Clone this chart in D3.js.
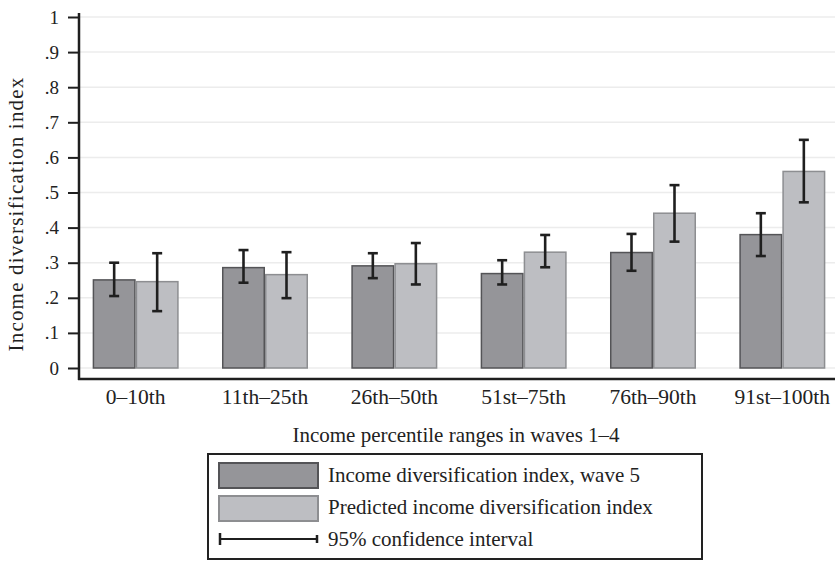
<!DOCTYPE html>
<html>
<head>
<meta charset="utf-8">
<script src="https://cdn.jsdelivr.net/npm/d3@7"></script>
<style>
  body { margin: 0; background: #fff; }
  svg { display: block; font-family: "Liberation Serif", "DejaVu Serif", serif; }
</style>
</head>
<body>
<div id="chart"></div>
<script>
(function () {
  // ---- data ----
  const categories = ['0–10th', '11th–25th', '26th–50th', '51st–75th', '76th–90th', '91st–100th'];
  const wave5     = [0.251, 0.286, 0.291, 0.269, 0.329, 0.380];
  const wave5Lo   = [0.205, 0.243, 0.256, 0.238, 0.277, 0.319];
  const wave5Hi   = [0.300, 0.336, 0.327, 0.307, 0.382, 0.441];
  const predicted   = [0.246, 0.266, 0.297, 0.330, 0.441, 0.560];
  const predictedLo = [0.162, 0.199, 0.238, 0.287, 0.360, 0.472];
  const predictedHi = [0.327, 0.330, 0.356, 0.379, 0.521, 0.650];
  const yTicks = [0, 0.1, 0.2, 0.3, 0.4, 0.5, 0.6, 0.7, 0.8, 0.9, 1];
  const seriesNames = ['Income diversification index, wave 5', 'Predicted income diversification index'];

  const W = 837, H = 562;
  const fill   = ['#959599', '#bdbec2'];
  const stroke = ['#545457', '#8d8e91'];
  const ink = '#222';

  const svg = d3.select('#chart').append('svg')
    .attr('width', W).attr('height', H)
    .attr('viewBox', `0 0 ${W} ${H}`);

  const y = d3.scaleLinear().domain([0, 1]).range([368, 17]);
  const x = d3.scaleBand().domain(categories).range([71, 847])
    .paddingInner(0.335).paddingOuter(0.1675);
  const xs = d3.scaleBand().domain([0, 1]).range([0, x.bandwidth()]);

  const axisX = 79, baseY = 379, rightX = 835;

  // gridlines
  svg.append('g').selectAll('line').data(yTicks).join('line')
    .attr('x1', axisX).attr('x2', rightX)
    .attr('y1', d => y(d)).attr('y2', d => y(d))
    .attr('stroke', '#ececec').attr('stroke-width', 1.5);

  // bars
  const rows = categories.map((c, i) => ({
    cat: c,
    vals: [
      { s: 0, v: wave5[i], lo: wave5Lo[i], hi: wave5Hi[i] },
      { s: 1, v: predicted[i], lo: predictedLo[i], hi: predictedHi[i] }
    ]
  }));

  const grp = svg.append('g').selectAll('g').data(rows).join('g')
    .attr('transform', d => `translate(${x(d.cat)},0)`);

  grp.selectAll('rect').data(d => d.vals).join('rect')
    .attr('x', d => xs(d.s) + 0.75)
    .attr('width', xs.bandwidth() - 1.5)
    .attr('y', d => y(d.v))
    .attr('height', d => y(0) - y(d.v))
    .attr('fill', d => fill[d.s])
    .attr('stroke', d => stroke[d.s])
    .attr('stroke-width', 1.5);

  // error bars
  const eb = grp.selectAll('g.eb').data(d => d.vals).join('g').attr('class', 'eb')
    .attr('transform', d => `translate(${xs(d.s) + xs.bandwidth() / 2},0)`)
    .attr('stroke', '#1f1f1f').attr('stroke-width', 2.6);
  eb.append('line').attr('y1', d => y(d.lo)).attr('y2', d => y(d.hi));
  eb.append('line').attr('x1', -5).attr('x2', 5).attr('y1', d => y(d.hi)).attr('y2', d => y(d.hi));
  eb.append('line').attr('x1', -5).attr('x2', 5).attr('y1', d => y(d.lo)).attr('y2', d => y(d.lo));

  // y axis
  const fmt = d => d === 0 ? '0' : d === 1 ? '1' : d3.format('.1f')(d).replace(/^0/, '');
  const gy = svg.append('g').attr('transform', `translate(${axisX},0)`)
    .call(d3.axisLeft(y).tickValues(yTicks).tickFormat(fmt).tickSize(11).tickPadding(9));
  gy.select('.domain').remove();
  gy.selectAll('.tick line').attr('stroke', '#1f1f1f').attr('stroke-width', 2);
  gy.selectAll('.tick text').attr('font-size', 19).attr('fill', ink)
    .attr('font-family', '"Liberation Serif", serif');
  svg.append('line').attr('x1', axisX).attr('x2', axisX).attr('y1', 13).attr('y2', baseY + 1)
    .attr('stroke', '#1f1f1f').attr('stroke-width', 2.5);

  // x axis
  svg.append('line').attr('x1', axisX - 1).attr('x2', rightX).attr('y1', baseY).attr('y2', baseY)
    .attr('stroke', '#1f1f1f').attr('stroke-width', 2.5);
  svg.append('g').selectAll('text').data(categories).join('text')
    .attr('x', d => x(d) + x.bandwidth() / 2)
    .attr('y', 404)
    .attr('text-anchor', 'middle')
    .attr('font-size', 21.5).attr('fill', ink)
    .text(d => d);

  // axis titles
  svg.append('text')
    .attr('x', 456).attr('y', 442)
    .attr('text-anchor', 'middle').attr('font-size', 21).attr('fill', ink)
    .text('Income percentile ranges in waves 1–4');
  svg.append('text')
    .attr('transform', 'translate(23,214) rotate(-90)')
    .attr('text-anchor', 'middle').attr('font-size', 21).attr('letter-spacing', 1.2).attr('fill', ink)
    .text('Income diversification index');

  // legend
  const lg = svg.append('g');
  lg.append('rect').attr('x', 208).attr('y', 454).attr('width', 494).attr('height', 105)
    .attr('fill', '#fff').attr('stroke', ink).attr('stroke-width', 2);
  const legendRows = [0, 1];
  lg.selectAll('rect.sw').data(legendRows).join('rect').attr('class', 'sw')
    .attr('x', 219).attr('width', 99)
    .attr('y', d => 463 + d * 33).attr('height', 25)
    .attr('fill', d => fill[d]).attr('stroke', d => stroke[d]).attr('stroke-width', 2);
  lg.selectAll('text.lt').data(seriesNames.concat(['95% confidence interval'])).join('text')
    .attr('class', 'lt')
    .attr('x', 328).attr('y', (d, i) => 482 + i * 32)
    .attr('font-size', 21).attr('fill', ink)
    .text(d => d);
  const ci = lg.append('g').attr('stroke', '#1f1f1f').attr('stroke-width', 2);
  ci.append('line').attr('x1', 219).attr('x2', 318).attr('y1', 539).attr('y2', 539);
  ci.append('line').attr('x1', 220).attr('x2', 220).attr('y1', 533).attr('y2', 545).attr('stroke-width', 2.5);
  ci.append('line').attr('x1', 317).attr('x2', 317).attr('y1', 535).attr('y2', 543).attr('stroke-width', 2.5);
})();
</script>
</body>
</html>
